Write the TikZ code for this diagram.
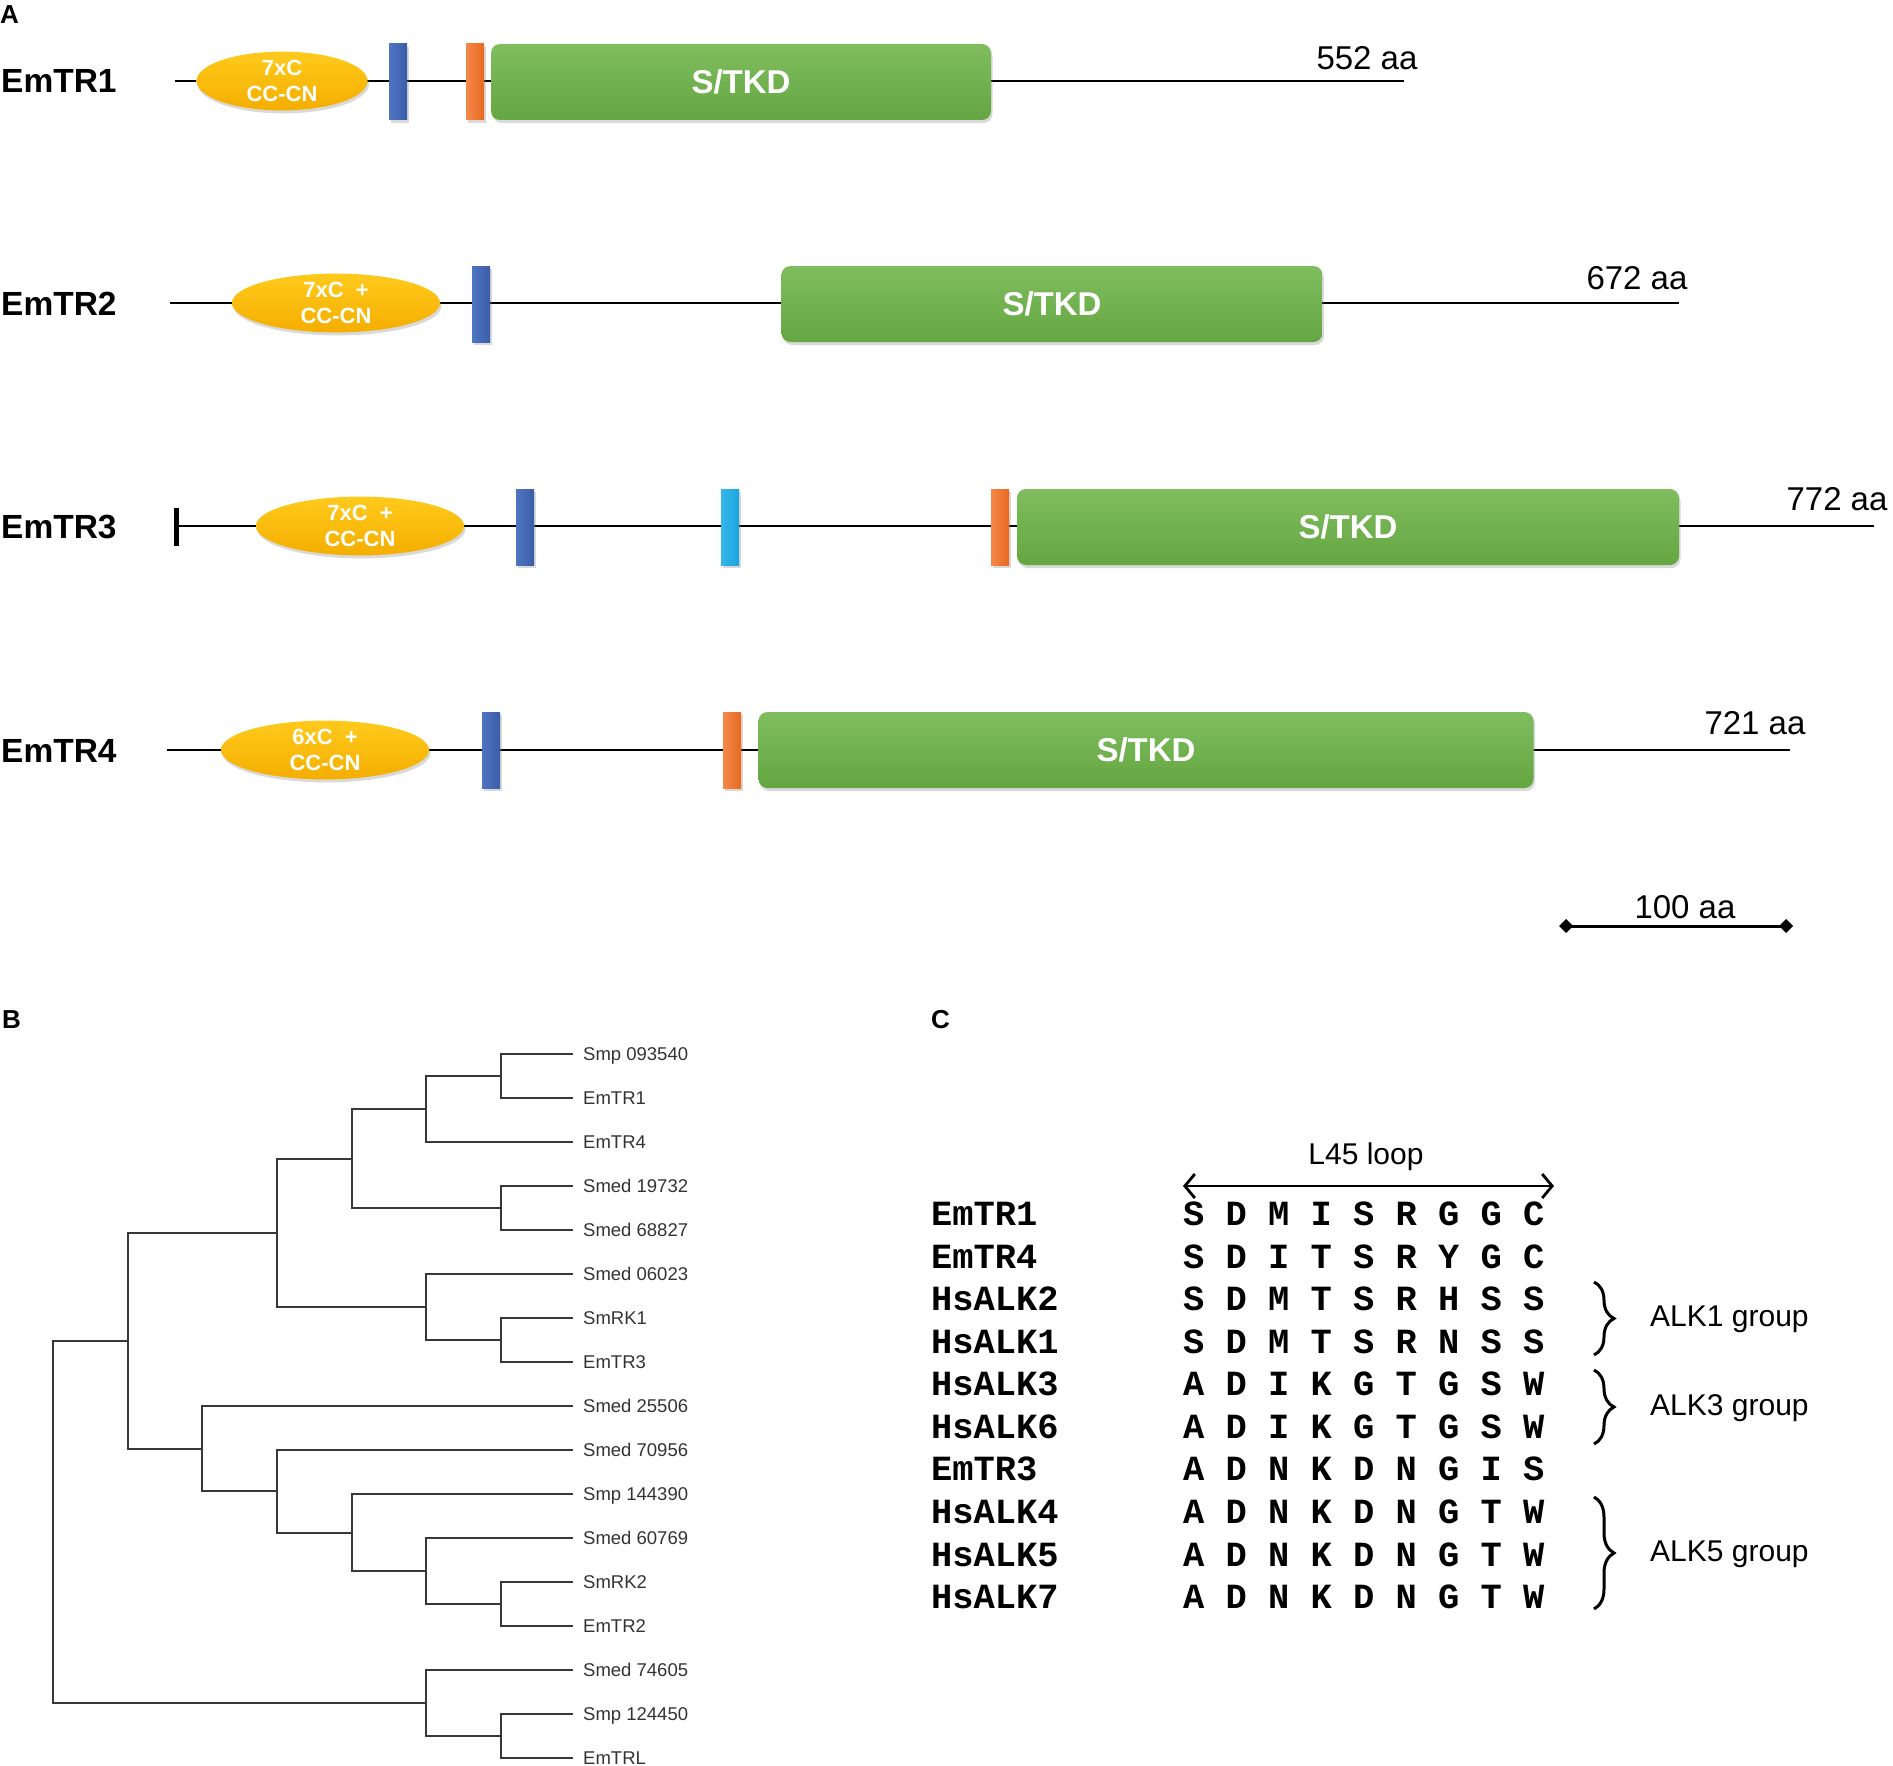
\documentclass[tikz,border=0pt]{standalone}
\usepackage{fontspec}
\setmainfont{Liberation Sans}
\newfontfamily\monof{Liberation Mono}
\usetikzlibrary{shapes.geometric,shadows,arrows.meta,decorations.pathreplacing}
\definecolor{gtop}{HTML}{80BD5F}
\definecolor{gbot}{HTML}{64A641}
\definecolor{ytop}{HTML}{FFCA1C}
\definecolor{ybot}{HTML}{F4AE00}
\definecolor{btop}{HTML}{5075C0}
\definecolor{bbot}{HTML}{3A5DA8}
\definecolor{otop}{HTML}{F4884A}
\definecolor{obot}{HTML}{E8691F}
\definecolor{ctop}{HTML}{35B5EA}
\definecolor{cbot}{HTML}{1DA4DE}
\begin{document}
\begin{tikzpicture}[x=1pt,y=-1pt,
  shad/.style={drop shadow={shadow xshift=1.5pt,shadow yshift=-3pt,opacity=0.3}},
  protline/.style={line width=2.2pt,black},
  panellab/.style={font=\bfseries\fontsize{26}{30}\selectfont,anchor=west,inner sep=0},
  rowlab/.style={font=\bfseries\fontsize{33.5}{38}\selectfont,anchor=west,inner sep=0},
  aalab/.style={font=\fontsize{33}{38}\selectfont,inner sep=0},
  ccdom/.style={ellipse,draw=none,inner sep=0,minimum height=55pt,top color=ytop,bottom color=ybot,text=white,
    font=\bfseries\fontsize{22}{26}\selectfont,align=center,shad},
  bluebar/.style={draw=none,inner sep=0,minimum width=18pt,minimum height=76pt,left color=btop,right color=bbot,shad},
  orbar/.style={draw=none,inner sep=0,minimum width=18pt,minimum height=76pt,left color=otop,right color=obot,shad},
  cybar/.style={draw=none,inner sep=0,minimum width=18pt,minimum height=76pt,left color=ctop,right color=cbot,shad},
  kinase/.style={draw=none,rounded corners=9pt,inner sep=0,minimum height=76pt,top color=gtop,bottom color=gbot,
    text=white,font=\bfseries\fontsize{33}{38}\selectfont,shad},
  leaf/.style={anchor=west,inner xsep=10pt,inner ysep=0,text height=13pt,text depth=0pt,
    font=\fontsize{18.5}{22}\selectfont,text=black!80},
  tree/.style={line width=2pt,black!78},
  seq/.style={anchor=west,inner sep=0,text height=20pt,text depth=0pt,font=\monof\bfseries\fontsize{35.4}{40}\selectfont},
  grp/.style={anchor=west,inner sep=0,font=\fontsize{30}{34}\selectfont},
  brc/.style={decorate,decoration={brace,amplitude=20pt},line width=3pt}
]
\useasboundingbox (0,0) rectangle (1893,1766);

% ---------------- Panel A ----------------
\node[panellab] (pA) at (0,15) {A};

% EmTR1
\node[rowlab] (lab1) at (1,81) {EmTR1};
\coordinate (r1s) at (175,81);
\coordinate (r1e) at (1404,81);
\draw[protline] (r1s) -- (r1e);
\node[ccdom,minimum width=171pt] (cc1) at (282,81) {7xC\\CC-CN};
\node[bluebar] (b1) at (398,82) {};
\node[orbar] (o1) at (475,82) {};
\node[kinase,minimum width=500pt] (k1) at (741,82) {S/TKD};
\node[aalab] (aa1) at (1367,58) {552 aa};

% EmTR2
\node[rowlab] (lab2) at (1,304) {EmTR2};
\coordinate (r2s) at (170,303);
\coordinate (r2e) at (1679,303);
\draw[protline] (r2s) -- (r2e);
\node[ccdom,minimum width=208pt] (cc2) at (336,303) {7xC\ \ +\\CC-CN};
\node[bluebar] (b2) at (481,304) {};
\node[kinase,minimum width=541pt] (k2) at (1052,304) {S/TKD};
\node[aalab] (aa2) at (1637,278) {672 aa};

% EmTR3
\node[rowlab] (lab3) at (1,527) {EmTR3};
\coordinate (r3s) at (175,526);
\coordinate (r3e) at (1874,526);
\draw[protline] (r3s) -- (r3e);
\node[draw=none,fill=black,inner sep=0,minimum width=5pt,minimum height=38pt] (tk3) at (176,527) {};
\node[ccdom,minimum width=208pt] (cc3) at (360,526) {7xC\ \ +\\CC-CN};
\node[bluebar] (b3) at (525,527) {};
\node[cybar] (c3) at (730,527) {};
\node[orbar] (o3) at (1000,527) {};
\node[kinase,minimum width=662pt] (k3) at (1348,527) {S/TKD};
\node[aalab] (aa3) at (1837,499) {772 aa};

% EmTR4
\node[rowlab] (lab4) at (1,751) {EmTR4};
\coordinate (r4s) at (167,750);
\coordinate (r4e) at (1790,750);
\draw[protline] (r4s) -- (r4e);
\node[ccdom,minimum width=208pt] (cc4) at (325,750) {6xC\ \ +\\CC-CN};
\node[bluebar] (b4) at (491,750) {};
\node[orbar] (o4) at (732,750) {};
\node[kinase,minimum width=775pt] (k4) at (1146,750) {S/TKD};
\node[aalab] (aa4) at (1755,723) {721 aa};

% scale bar
\coordinate (sb1) at (1559,926);
\coordinate (sb2) at (1793,926);
\draw[line width=3pt,{Diamond[length=14pt,width=14pt]}-{Diamond[length=14pt,width=14pt]}] (sb1) -- (sb2);
\node[aalab] (sbl) at (1685,907) {100 aa};

% ---------------- Panel B ----------------
\node[panellab] (pB) at (2,1020) {B};

\node[leaf] (t1) at (573,1054) {Smp 093540};
\node[leaf] (t2) at (573,1098) {EmTR1};
\node[leaf] (t3) at (573,1142) {EmTR4};
\node[leaf] (t4) at (573,1186) {Smed 19732};
\node[leaf] (t5) at (573,1230) {Smed 68827};
\node[leaf] (t6) at (573,1274) {Smed 06023};
\node[leaf] (t7) at (573,1318) {SmRK1};
\node[leaf] (t8) at (573,1362) {EmTR3};
\node[leaf] (t9) at (573,1406) {Smed 25506};
\node[leaf] (t10) at (573,1450) {Smed 70956};
\node[leaf] (t11) at (573,1494) {Smp 144390};
\node[leaf] (t12) at (573,1538) {Smed 60769};
\node[leaf] (t13) at (573,1582) {SmRK2};
\node[leaf] (t14) at (573,1626) {EmTR2};
\node[leaf] (t15) at (573,1670) {Smed 74605};
\node[leaf] (t16) at (573,1714) {Smp 124450};
\node[leaf] (t17) at (573,1758) {EmTRL};

\coordinate (na) at (501,1076);
\coordinate (nb) at (426,1109);
\coordinate (nc) at (501,1208);
\coordinate (nd) at (352,1159);
\coordinate (ne) at (501,1340);
\coordinate (nf) at (426,1307);
\coordinate (ng) at (277,1233);
\coordinate (nh) at (501,1604);
\coordinate (ni) at (426,1571);
\coordinate (nj) at (352,1533);
\coordinate (nk) at (277,1491);
\coordinate (nl) at (202,1449);
\coordinate (nm) at (128,1341);
\coordinate (nn) at (501,1736);
\coordinate (no) at (426,1703);
\coordinate (root) at (53,1522);

\draw[tree] (na) |- (t1.west);  \draw[tree] (na) |- (t2.west);
\draw[tree] (nb) |- (na);       \draw[tree] (nb) |- (t3.west);
\draw[tree] (nc) |- (t4.west);  \draw[tree] (nc) |- (t5.west);
\draw[tree] (nd) |- (nb);       \draw[tree] (nd) |- (nc);
\draw[tree] (ne) |- (t7.west);  \draw[tree] (ne) |- (t8.west);
\draw[tree] (nf) |- (t6.west);  \draw[tree] (nf) |- (ne);
\draw[tree] (ng) |- (nd);       \draw[tree] (ng) |- (nf);
\draw[tree] (nh) |- (t13.west); \draw[tree] (nh) |- (t14.west);
\draw[tree] (ni) |- (t12.west); \draw[tree] (ni) |- (nh);
\draw[tree] (nj) |- (t11.west); \draw[tree] (nj) |- (ni);
\draw[tree] (nk) |- (t10.west); \draw[tree] (nk) |- (nj);
\draw[tree] (nl) |- (t9.west);  \draw[tree] (nl) |- (nk);
\draw[tree] (nm) |- (ng);       \draw[tree] (nm) |- (nl);
\draw[tree] (nn) |- (t16.west); \draw[tree] (nn) |- (t17.west);
\draw[tree] (no) |- (t15.west); \draw[tree] (no) |- (nn);
\draw[tree] (root) |- (nm);     \draw[tree] (root) |- (no);

% ---------------- Panel C ----------------
\node[panellab] (pC) at (931,1020) {C};

\node[font=\fontsize{30}{34}\selectfont,inner sep=0] (loop) at (1366,1157) {L45 loop};
\coordinate (la) at (1183,1186);
\coordinate (lb) at (1554,1186);
\draw[line width=2.8pt,{Straight Barb[length=10pt,width=24pt]}-{Straight Barb[length=10pt,width=24pt]}] (la) -- (lb);

\node[seq] (n1) at (931,1215) {EmTR1};  \node[seq] (s1) at (1183,1215) {S D M I S R G G C};
\node[seq] (n2) at (931,1258) {EmTR4};  \node[seq] (s2) at (1183,1258) {S D I T S R Y G C};
\node[seq] (n3) at (931,1300) {HsALK2}; \node[seq] (s3) at (1183,1300) {S D M T S R H S S};
\node[seq] (n4) at (931,1343) {HsALK1}; \node[seq] (s4) at (1183,1343) {S D M T S R N S S};
\node[seq] (n5) at (931,1385) {HsALK3}; \node[seq] (s5) at (1183,1385) {A D I K G T G S W};
\node[seq] (n6) at (931,1428) {HsALK6}; \node[seq] (s6) at (1183,1428) {A D I K G T G S W};
\node[seq] (n7) at (931,1470) {EmTR3};  \node[seq] (s7) at (1183,1470) {A D N K D N G I S};
\node[seq] (n8) at (931,1513) {HsALK4}; \node[seq] (s8) at (1183,1513) {A D N K D N G T W};
\node[seq] (n9) at (931,1556) {HsALK5}; \node[seq] (s9) at (1183,1556) {A D N K D N G T W};
\node[seq] (n10) at (931,1598) {HsALK7};\node[seq] (s10) at (1183,1598) {A D N K D N G T W};

\coordinate (g1a) at (1594,1282); \coordinate (g1b) at (1594,1355);
\coordinate (g3a) at (1594,1370); \coordinate (g3b) at (1594,1444);
\coordinate (g5a) at (1594,1497); \coordinate (g5b) at (1594,1609);
\draw[brc] (g1a) -- (g1b);
\draw[brc] (g3a) -- (g3b);
\draw[brc] (g5a) -- (g5b);
\node[grp] (gl1) at (1650,1319) {ALK1 group};
\node[grp] (gl3) at (1650,1408) {ALK3 group};
\node[grp] (gl5) at (1650,1554) {ALK5 group};
\end{tikzpicture}
\end{document}
